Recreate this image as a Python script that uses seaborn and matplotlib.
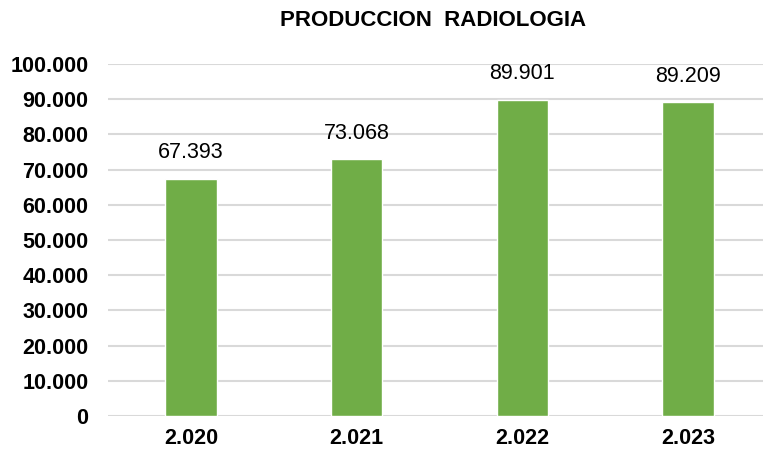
import matplotlib
matplotlib.use("Agg")
import matplotlib.pyplot as plt
from matplotlib.ticker import FuncFormatter, MultipleLocator
import seaborn as sns
import pandas as pd

# Annual radiology production
years = ["2.020", "2.021", "2.022", "2.023"]
production = [67393, 73068, 89901, 89209]

title = "PRODUCCION  RADIOLOGIA"
bar_color = "#70AD47"
grid_color = "#D9D9D9"

df = pd.DataFrame({"year": years, "production": production})

sns.set_theme(style="white")
plt.rcParams["font.family"] = ["Liberation Sans", "DejaVu Sans"]

def dot_thousands(v, pos=None):
    return f"{int(round(v)):,}".replace(",", ".")

fig = plt.figure(figsize=(7.63, 4.51), dpi=100)
ax = fig.add_axes([108 / 763, 1 - 416 / 451, (763 - 108) / 763, (416 - 64) / 451])

sns.barplot(data=df, x="year", y="production", order=years, color=bar_color,
            saturation=1, width=0.31, ax=ax, zorder=3)

ax.set_ylim(0, 100000)
ax.set_xlim(-0.5, 3.5 - 8 / 166)
ax.yaxis.set_major_locator(MultipleLocator(10000))
ax.yaxis.set_major_formatter(FuncFormatter(dot_thousands))
ax.grid(axis="y", color=grid_color, linewidth=1.5, zorder=0)
ax.set_axisbelow(True)
for s in ax.spines.values():
    s.set_visible(False)
ax.set_xlabel("")
ax.set_ylabel("")
ax.tick_params(axis="both", length=0)
ax.tick_params(axis="y", pad=14, labelsize=15.5)
ax.tick_params(axis="x", pad=9, labelsize=15.5)
for lab in ax.get_xticklabels() + ax.get_yticklabels():
    lab.set_fontweight("bold")
    lab.set_color("black")

for i, v in enumerate(production):
    ax.annotate(dot_thousands(v), xy=(i, v), xytext=(0, 11), textcoords="offset points",
                ha="center", va="bottom", fontsize=15.5, color="black")

fig.text(433 / 763, 1 - 20 / 451, title, ha="center", va="center", fontsize=16,
         fontweight="bold", color="black")

fig.savefig("out.png", dpi=100, facecolor="white")
